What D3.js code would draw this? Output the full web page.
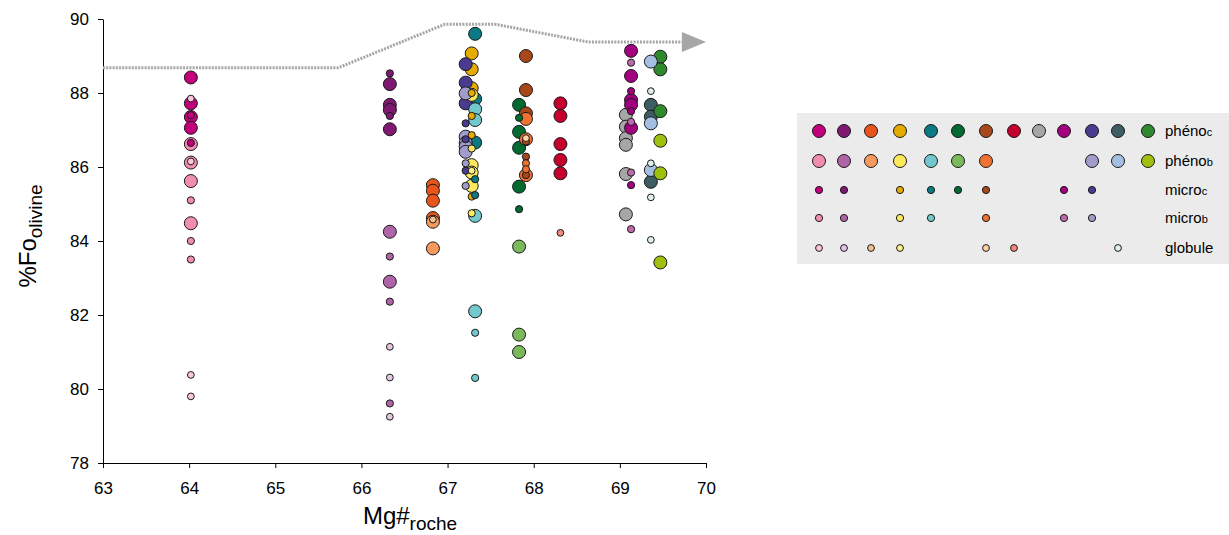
<!DOCTYPE html>
<html><head><meta charset="utf-8">
<script src="https://cdn.jsdelivr.net/npm/d3@7"></script>
<style>body{margin:0;background:#fff;}svg{display:block;font-family:"Liberation Sans",Arial,sans-serif;}</style>
</head><body><svg id="c" width="1229" height="535"></svg>
<script>
// sample Mg# (x) values, in legend column order
const sampleMg = [64.02, 66.33, 66.83, 67.28, 67.32, 67.83, 67.91, 68.31, 69.07, 69.13, 67.21, 69.36, 69.47];
const colPhenoC = ["#c2007b","#7e1871","#e8541a","#e5ab00","#0b7a85","#006a30","#a8471a","#c5002f","#a6a6a6","#a2007e","#4a3a90","#3e5c64","#2f8a2f"];
const colPhenoB = ["#f18db0","#b064a8","#f59a5c","#fde95c","#72c8cd","#7aba5c","#f07232",null,null,null,"#a09ccc","#a5bfe2","#9fc10e"];
const colMicroC = ["#c2007b","#7e1871",null,"#e5ab00","#0b7a85","#006a30","#a8471a",null,null,"#a2007e","#4a3a90",null,null];
const colMicroB = ["#f18db0","#b064a8",null,"#fde95c","#72c8cd",null,"#f07232",null,null,"#c06aae","#a09ccc",null,null];
const colGlobule = ["#f9c8d8","#e6c6e0","#f5c08e","#fff08a",null,null,"#fdd2a6","#f08a80",null,null,null,"#dff0e6",null];

// %Fo values per sample (index = legend column)
const phenoC = [
  [88.42, 87.72, 87.35, 87.06],
  [88.24, 87.68, 87.54, 87.02],
  [85.51, 85.36, 85.09, 84.62],
  [89.07, 88.64, 88.13],
  [89.6, 87.84, 86.66],
  [87.68, 86.95, 86.52, 85.47],
  [89.0, 88.08, 87.45],
  [87.72, 87.38, 86.62, 86.19, 85.83],
  [87.41, 87.09, 86.78, 86.6, 85.81, 84.72],
  [89.14, 88.46, 87.81, 87.68, 87.06],
  [88.78, 88.28, 87.72],
  [87.68, 87.36, 85.6],
  [88.98, 88.64, 87.51]
];
const phenoB = [
  [86.62, 86.12, 85.62, 84.48],
  [84.25, 82.9],
  [84.52, 83.8],
  [87.95, 86.05, 85.85, 85.49],
  [87.56, 87.27, 84.68, 82.1],
  [83.85, 81.47, 81.0],
  [87.3, 86.75, 85.78],
  [], [], [],
  [87.99, 86.82, 86.65, 86.55, 86.41],
  [88.85, 87.18, 85.92],
  [86.71, 85.83, 83.42]
];
const microC = [
  [87.4, 86.65],
  [88.53, 87.38],
  [],
  [88.0, 87.38, 86.86, 85.2],
  [85.67, 85.24],
  [87.33, 84.86],
  [86.69, 86.28, 85.78],
  [], [],
  [88.05, 87.51, 85.51],
  [87.18, 86.75, 85.9],
  [], []
];
const microB = [
  [85.1, 84.0, 83.5],
  [83.58, 82.36, 79.61],
  [],
  [86.5, 84.75],
  [81.52, 80.3],
  [],
  [86.1, 85.94],
  [], [],
  [88.82, 87.22, 85.85, 84.32],
  [86.1, 85.49],
  [], []
];
const globule = [
  [87.85, 86.15, 80.38, 79.8],
  [81.14, 80.31, 79.25],
  [84.58],
  [85.9],
  [], [],
  [86.78],
  [84.22],
  [], [], [],
  [88.05, 86.1, 85.18, 84.03],
  []
];

const xTicks = [63, 64, 65, 66, 67, 68, 69, 70];
const yTicks = [78, 80, 82, 84, 86, 88, 90];
// trend arrow (dotted) path
const trendX = [63, 65.73, 66.97, 67.55, 68.63, 69.72];
const trendY = [88.68, 88.68, 89.86, 89.86, 89.38, 89.38];
const arrowTip = [70, 89.38];

const legendLabels = [["phéno","c"],["phéno","b"],["micro","c"],["micro","b"],["globule",""]];

const svg = d3.select("#c");
const x = d3.scaleLinear().domain([63,70]).range([103,706]);
const y = d3.scaleLinear().domain([78,90]).range([463,19]);

// axes
const gy = svg.append("g").attr("transform","translate(103,0)")
  .call(d3.axisLeft(y).tickValues(yTicks).tickFormat(d3.format("d")).tickSize(5).tickSizeOuter(0).tickPadding(9));
const gx = svg.append("g").attr("transform","translate(0,463)")
  .call(d3.axisBottom(x).tickValues(xTicks).tickFormat(d3.format("d")).tickSize(5).tickSizeOuter(0).tickPadding(14));
[gx,gy].forEach(g=>{
  g.selectAll("text").attr("font-size",17).attr("fill","#000").attr("font-family","Liberation Sans, Arial");
  g.selectAll("line").attr("stroke","#000");
  g.select(".domain").attr("stroke","#000");
});

// trend
const tl = d3.line().x(d=>x(d[0])).y(d=>y(d[1]));
svg.append("path").attr("d", tl(trendX.map((v,i)=>[v,trendY[i]])))
  .attr("fill","none").attr("stroke","#a6a6a6").attr("stroke-width",3).attr("stroke-dasharray","2,1.2");
const bx = x(trendX[trendX.length-1]), by = y(trendY[trendY.length-1]);
svg.append("path").attr("d",`M${bx},${by-10}L${x(arrowTip[0])},${y(arrowTip[1])}L${bx},${by+10}Z`).attr("fill","#a6a6a6");

// points
const types = [
  {data: phenoC, cols: colPhenoC, r: 6.5},
  {data: phenoB, cols: colPhenoB, r: 6.5},
  {data: microC, cols: colMicroC, r: 3.6},
  {data: microB, cols: colMicroB, r: 3.6},
  {data: globule, cols: colGlobule, r: 3.4}
];
const pts = svg.append("g");
types.forEach(t=>{
  t.data.forEach((vals,si)=>{
    vals.forEach(v=>{
      pts.append("circle").attr("cx",x(sampleMg[si])).attr("cy",y(v)).attr("r",t.r)
        .attr("fill",t.cols[si]).attr("stroke","#1a1a1a").attr("stroke-width",1);
    });
  });
});

// axis titles
const yt = svg.append("text").attr("transform","translate(36,236) rotate(-90)").attr("text-anchor","middle").attr("font-size",24);
yt.append("tspan").text("%Fo");
yt.append("tspan").attr("font-size",19).attr("dy",6).text("olivine");
const xt = svg.append("text").attr("x",410).attr("y",524).attr("text-anchor","middle").attr("font-size",24);
xt.append("tspan").text("Mg#");
xt.append("tspan").attr("font-size",19).attr("dy",6).text("roche");

// legend
const lg = svg.append("g");
lg.append("rect").attr("x",797).attr("y",113).attr("width",432).attr("height",151).attr("fill","#ebebeb");
const legX = [819,844,871,900,931,958,986,1014,1039,1064,1092,1118,1148];
const legY = [131,161,190,218,248];
types.forEach((t,ri)=>{
  t.cols.forEach((c,ci)=>{
    if(!c) return;
    lg.append("circle").attr("cx",legX[ci]).attr("cy",legY[ri]).attr("r",t.r)
      .attr("fill",c).attr("stroke","#1a1a1a").attr("stroke-width",1);
  });
  const tx = lg.append("text").attr("x",1165).attr("y",legY[ri]+5).attr("font-size",15);
  tx.append("tspan").text(legendLabels[ri][0]);
  if(legendLabels[ri][1]) tx.append("tspan").attr("font-size",11).text(legendLabels[ri][1]);
});
</script></body></html>
